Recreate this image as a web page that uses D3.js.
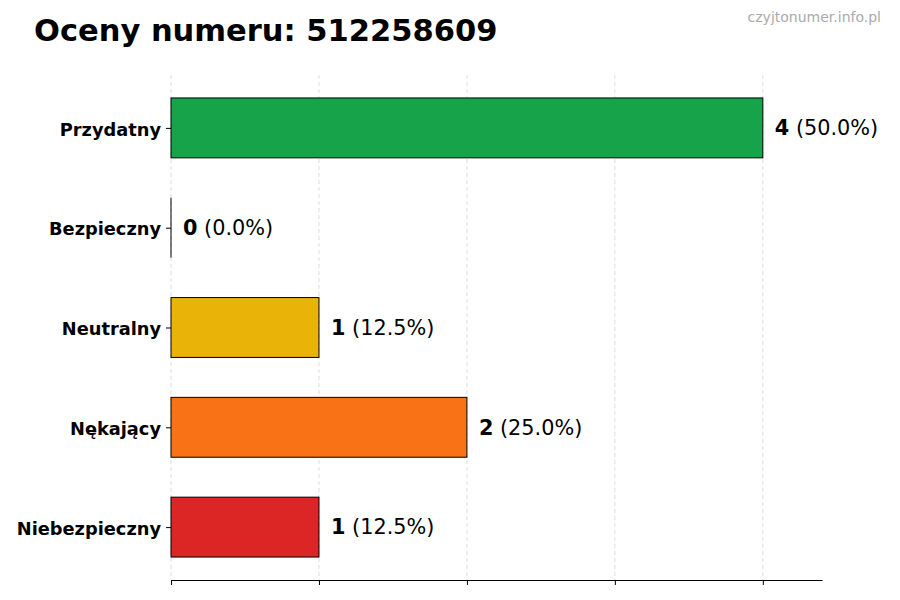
<!DOCTYPE html>
<html><head><meta charset="utf-8">
<script src="https://cdn.jsdelivr.net/npm/d3@7"></script>
<style>body{margin:0;background:#fff;font-family:"DejaVu Sans",sans-serif;}</style>
</head><body>
<svg id="c" width="900" height="600"></svg>
<script>
const categories = ["Przydatny","Bezpieczny","Neutralny","Nękający","Niebezpieczny"];
const values = [4,0,1,2,1];
const percents = ["50.0%","0.0%","12.5%","25.0%","12.5%"];
const colors = ["#16a34a","#9ca3af","#eab308","#f97316","#dc2626"];
const xTicks = [0,1,2,3,4];

(function(){
const svg = d3.select("#c");
const mLeft = 171, mRight = 822, mTop = 75, mBottom = 580;
const x = d3.scaleLinear().domain([0,4.4]).range([mLeft,mRight]);
const y = d3.scaleLinear().domain([4.53,-0.53]).range([mTop,mBottom]);
const pos = i => categories.length-1-i;

svg.append("text").attr("x",34).attr("y",41).attr("font-size",30.5).attr("font-weight","bold").attr("fill","#000").text("Oceny numeru: 512258609");
svg.append("text").attr("x",881).attr("y",22).attr("text-anchor","end").attr("font-size",14).attr("fill","#aaa").text("czyjtonumer.info.pl");

svg.append("g").selectAll("line").data(xTicks).join("line")
  .attr("x1",d=>x(d)).attr("x2",d=>x(d)).attr("y1",mTop).attr("y2",mBottom)
  .attr("stroke","#d4d4d4").attr("stroke-width",0.8).attr("stroke-dasharray","4,3");

const bh = y(0)-y(0.6);
svg.append("g").selectAll("rect").data(values).join("rect")
  .attr("x",x(0)).attr("y",(d,i)=>y(pos(i))-bh/2)
  .attr("width",d=>x(d)-x(0)).attr("height",bh)
  .attr("fill",(d,i)=>colors[i]).attr("stroke","#000").attr("stroke-width",1);
svg.append("g").selectAll("line").data(values.map((v,i)=>({v,i})).filter(d=>d.v===0)).join("line")
  .attr("x1",x(0)).attr("x2",x(0)).attr("y1",d=>y(pos(d.i))-bh/2).attr("y2",d=>y(pos(d.i))+bh/2)
  .attr("stroke","#000").attr("stroke-width",1);

const xa = svg.append("g").attr("transform",`translate(0,${mBottom})`)
  .call(d3.axisBottom(x).tickValues(xTicks).tickFormat("").tickSize(5).tickSizeOuter(0));
xa.select(".domain").attr("stroke","#000").attr("stroke-width",1.2);
xa.selectAll(".tick line").attr("stroke","#000");

const ya = svg.append("g").attr("transform",`translate(${mLeft},0)`)
  .call(d3.axisLeft(y).tickValues(categories.map((c,i)=>pos(i))).tickFormat(v=>categories[categories.length-1-v]).tickSize(5));
ya.select(".domain").remove();
ya.selectAll(".tick line").attr("stroke","#000");
ya.selectAll(".tick text").attr("font-family","DejaVu Sans").attr("font-size",17.8).attr("font-weight","bold").attr("fill","#000").attr("dx","-2").attr("dy","0.4em");

const lab = svg.append("g").selectAll("text").data(values).join("text")
  .attr("x",d=>x(d)+12).attr("y",(d,i)=>y(pos(i))).attr("dy","0.35em")
  .attr("font-size",20.8).attr("fill","#000");
lab.append("tspan").attr("font-weight","bold").text(d=>d);
lab.append("tspan").text((d,i)=>" ("+percents[i]+")");
})();
</script>
</body></html>
